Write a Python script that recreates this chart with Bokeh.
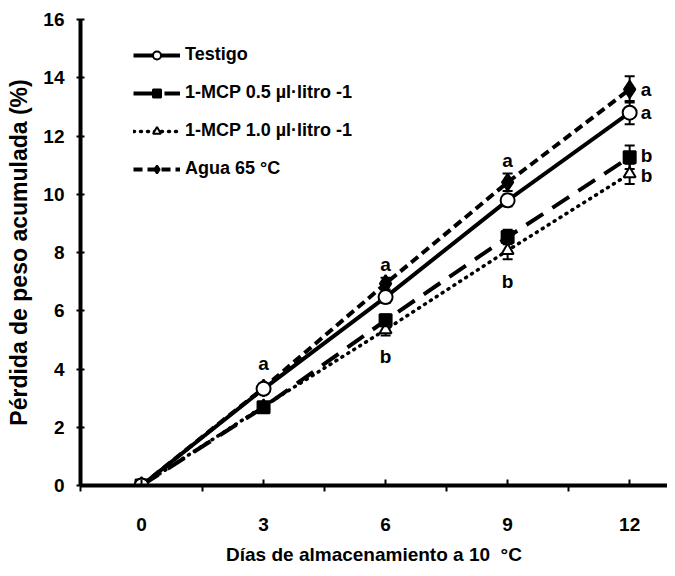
from bokeh.plotting import figure
from bokeh.models import (Range1d, FixedTicker, Legend, LegendItem, ColumnDataSource,
                          Whisker, TeeHead)
from bokeh.core.properties import value
from bokeh.embed import file_html
from bokeh.resources import INLINE

days = [0, 3, 6, 9, 12]
testigo = [0.0, 3.32, 6.47, 9.79, 12.8]
testigo_err = [0.1, 0.15, 0.2, 0.2, 0.4]
mcp05 = [0.0, 2.69, 5.67, 8.53, 11.27]
mcp05_err = [0.1, 0.15, 0.2, 0.25, 0.4]
mcp10 = [0.0, 2.72, 5.35, 8.07, 10.7]
mcp10_err = [0.1, 0.15, 0.2, 0.3, 0.35]
agua = [0.0, 3.35, 6.93, 10.41, 13.6]
agua_err = [0.1, 0.15, 0.2, 0.3, 0.45]

series_names = ["Testigo", "1-MCP 0.5 µl·litro -1", "1-MCP 1.0 µl·litro -1", "Agua 65 °C"]
x_ticks = [0, 3, 6, 9, 12]
y_ticks = [0, 2, 4, 6, 8, 10, 12, 14, 16]

# significance letters
top_letter_days = [3, 6, 9]
top_letters = ["a", "a", "a"]
low_letter_days = [6, 9]
low_letters = ["b", "b"]
end_letters = ["a", "b", "b", "a"]  # testigo, mcp05, mcp10, agua at day 12

FONT = "Liberation Sans"

p = figure(width=667, height=568, output_backend="svg", toolbar_location=None,
           x_range=Range1d(-1.5, 12.93), y_range=Range1d(0, 16),
           min_border_left=80, min_border_right=0, min_border_top=19, min_border_bottom=83)
p.outline_line_color = None
p.xgrid.visible = False
p.ygrid.visible = False
p.background_fill_color = "white"

styles = [
    dict(dash="solid", lw=4, marker="circle", fill="white", size=14, cap="butt"),
    dict(dash="20 11", lw=4, marker="square", fill="black", size=12, cap="butt"),
    dict(dash="1 6", lw=3.5, marker="triangle", fill="white", size=12, cap="round"),
    dict(dash="9 5", lw=4, marker="diamond", fill="black", size=17, cap="butt"),
]
data = [testigo, mcp05, mcp10, agua]
errs = [testigo_err, mcp05_err, mcp10_err, agua_err]

items = []
order = [3, 2, 1, 0]
renderers = {}
for i in order:
    st = styles[i]
    src = ColumnDataSource(dict(x=days, y=data[i],
                                upper=[v + e for v, e in zip(data[i], errs[i])],
                                lower=[v - e for v, e in zip(data[i], errs[i])]))
    lr = p.line("x", "y", source=src, line_color="black", line_width=st["lw"],
                line_dash=st["dash"], line_cap=st["cap"])
    w = Whisker(base="x", upper="upper", lower="lower", source=src, line_color="black",
                line_width=2,
                upper_head=TeeHead(size=10, line_width=2, line_color="black"),
                lower_head=TeeHead(size=10, line_width=2, line_color="black"))
    p.add_layout(w)
    mr = p.scatter("x", "y", source=src, marker=st["marker"], size=st["size"],
                   fill_color=st["fill"], line_color="black", line_width=2)
    renderers[i] = (lr, mr)

for i in range(4):
    items.append(LegendItem(label=series_names[i], renderers=list(renderers[i])))

legend = Legend(items=items, location=(53, 306), border_line_color=None,
                background_fill_alpha=0, padding=0, margin=0, spacing=17,
                glyph_width=47, glyph_height=20, label_height=20, label_standoff=5,
                label_text_font=FONT, label_text_font_style="bold",
                label_text_font_size="18px", label_text_color="black")
p.add_layout(legend, "center")

# letters
t_y = [max(d[days.index(x)] + e[days.index(x)] for d, e in zip(data, errs)) for x in top_letter_days]
p.text(x=top_letter_days, y=t_y, text=top_letters, text_align="center", text_baseline="bottom",
       y_offset=[-10, -3, -3], text_font=value(FONT), text_font_style="bold",
       text_font_size="19px", text_color="black")
l_y = [min(d[days.index(x)] - e[days.index(x)] for d, e in zip(data, errs)) for x in low_letter_days]
p.text(x=low_letter_days, y=l_y, text=low_letters, text_align="center", text_baseline="top",
       y_offset=[10, 12], text_font=value(FONT), text_font_style="bold",
       text_font_size="19px", text_color="black")
e_y = [d[-1] for d in data]
p.text(x=[days[-1]] * 4, y=e_y, text=end_letters, text_align="left", text_baseline="middle",
       x_offset=11, y_offset=[0, -2, 2, 0], text_font=value(FONT), text_font_style="bold",
       text_font_size="19px", text_color="black")

# axes
for ax in (p.xaxis[0], p.yaxis[0]):
    ax.axis_line_color = "black"
    ax.axis_line_width = 4
    ax.major_tick_line_color = "black"
    ax.major_tick_line_width = 2
    ax.minor_tick_line_color = "black"
    ax.minor_tick_line_width = 2
    ax.major_label_text_color = "black"
    ax.major_label_text_font = FONT
    ax.major_label_text_font_style = "bold"
    ax.major_label_text_font_size = "19px"
    ax.axis_label_text_color = "black"
    ax.axis_label_text_font = FONT
    ax.axis_label_text_font_style = "bold"

xa = p.xaxis[0]
xa.ticker = FixedTicker(ticks=x_ticks, minor_ticks=[-1.5, 1.5, 4.5, 7.5, 10.5])
xa.major_tick_in = 6
xa.major_tick_out = 0
xa.minor_tick_in = 0
xa.minor_tick_out = 6
xa.major_label_standoff = 26
xa.axis_label = "Días de almacenamiento a 10\u00a0 °C"
xa.axis_label_text_font_size = "19px"
xa.axis_label_standoff = 10

ya = p.yaxis[0]
ya.ticker = FixedTicker(ticks=y_ticks, minor_ticks=[])
ya.major_tick_in = 4
ya.major_tick_out = 4
ya.major_label_standoff = 12
ya.axis_label = "Pérdida de peso acumulada (%)"
ya.axis_label_text_font_size = "23px"
ya.axis_label_standoff = 8

open("out.html", "w").write(file_html(p, INLINE))
